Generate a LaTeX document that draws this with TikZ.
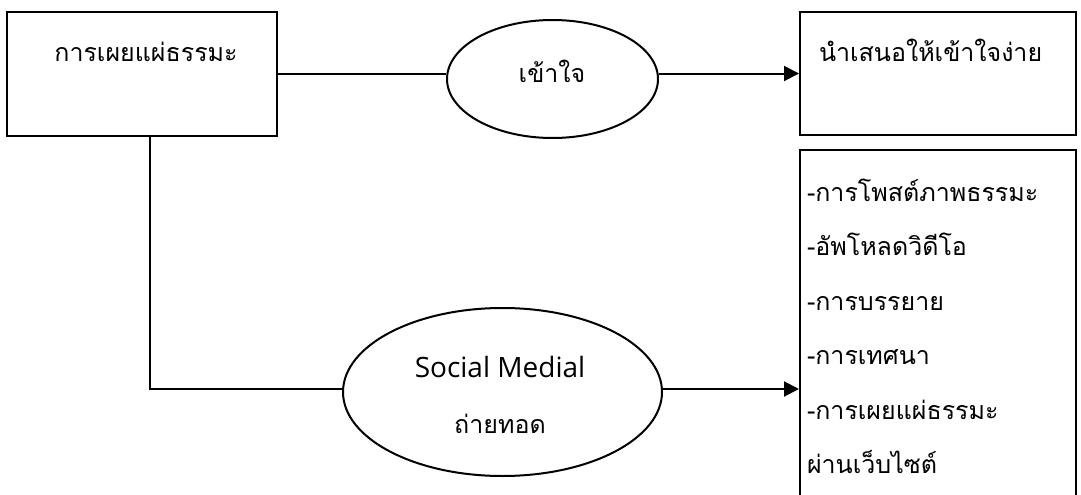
\documentclass[tikz,border=0pt]{standalone}
\usepackage{fontspec}
\setmainfont{Open Sans}
\newfontfamily\thaifont[Script=Thai]{Loma}
\usetikzlibrary{arrows.meta, shapes.geometric, positioning}
\tikzset{>={Triangle[length=15pt,width=15pt]}}

\begin{document}
\begin{tikzpicture}[x=1pt, y=-1pt, line width=2pt,
  box/.style={draw, rectangle, inner sep=0pt},
  oval/.style={draw, ellipse, inner sep=0pt},
  txt/.style={inner sep=0pt, anchor=base, font=\thaifont\fontsize{25}{30}\selectfont},
  lat/.style={inner sep=0pt, anchor=base, font=\fontsize{28}{30}\selectfont}]
\useasboundingbox (0,0) rectangle (1081,495);
\clip (0,0) rectangle (1081,495);

% shapes
\node[box, minimum width=270pt, minimum height=124pt] (src) at (142,74) {};
\node[oval, minimum width=211pt, minimum height=118pt] (und) at (552.5,79) {};
\node[box, minimum width=276pt, minimum height=123pt] (res) at (938,73.5) {};
\node[box, minimum width=276pt, minimum height=380pt] (list) at (938,340) {};
\node[oval, minimum width=319pt, minimum height=168pt] (med) at (502.5,392) {};

% texts
\node[txt] (srcT) at (146,62) {การเผยแผ่ธรรมะ};
\node[txt] (undT) at (552,82) {เข้าใจ};
\node[txt, anchor=base west] (resT) at (818,62) {นำเสนอให้เข้าใจง่าย};
\node[lat] (medA) at (500,377) {Social Medial};
\node[txt] (medB) at (500,433) {ถ่ายทอด};

\node[txt, anchor=base west] (L1) at (806,201) {-การโพสต์ภาพธรรมะ};
\node[txt, anchor=base west] (L2) at (806,255) {-อัพโหลดวิดีโอ};
\node[txt, anchor=base west] (L3) at (806,310) {-การบรรยาย};
\node[txt, anchor=base west] (L4) at (806,364) {-การเทศนา};
\node[txt, anchor=base west] (L5) at (806,419) {-การเผยแผ่ธรรมะ};
\node[txt, anchor=base west] (L6) at (806,473) {ผ่านเว็บไซต์};

% connectors
\draw (src.east) -- (src.east -| und.west);
\draw [->] (und.east |- res.west) -- (res.west);
\draw ([xshift=8pt]src.south) |- ([yshift=3pt]med.west);
\draw [->] ([yshift=3pt]med.east) -- ([yshift=3pt]med.east -| list.west);

\end{tikzpicture}
\end{document}
